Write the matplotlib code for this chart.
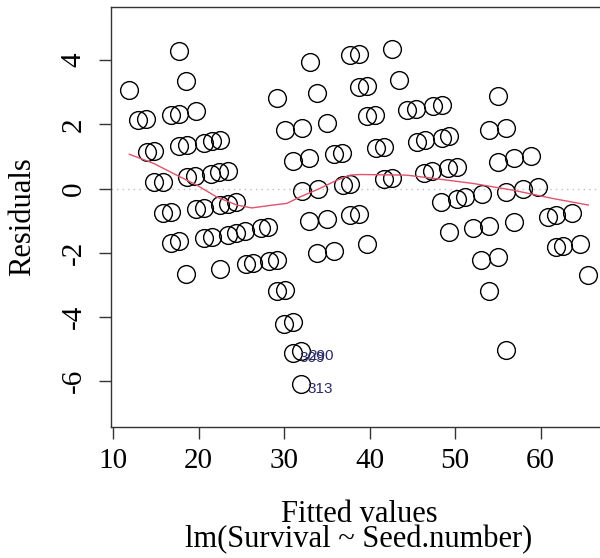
import numpy as np
import matplotlib
matplotlib.use("Agg")
import matplotlib.pyplot as plt

# Fitted values and residuals of lm(Survival ~ Seed.number)
fitted = [
    11.91, 17.68, 18.54, 12.96, 13.86, 16.78, 17.68, 19.67, 13.94, 14.83,
    17.72, 18.62, 20.61, 21.58, 22.55, 14.83, 15.81, 18.62, 19.59, 21.46,
    22.43, 23.42, 15.88, 16.82, 19.67, 20.64, 22.51, 23.45, 24.39, 16.78,
    17.75, 20.61, 21.54, 23.45, 24.39, 25.40, 27.27, 28.16, 18.54, 22.51,
    25.52, 26.41, 28.25, 29.22, 29.22, 30.15, 30.04, 31.02, 31.02, 32.02,
    31.96, 29.22, 30.12, 32.07, 31.02, 32.96, 32.14, 33.94, 32.96, 34.99,
    33.86, 35.88, 33.04, 33.89, 34.99, 35.88, 36.82, 36.84, 37.72, 37.72,
    38.74, 37.72, 38.81, 42.63, 38.81, 39.74, 43.49, 39.67, 40.64, 44.42,
    45.44, 47.39, 48.44, 55.06, 40.76, 41.70, 45.52, 46.49, 48.44, 49.33,
    54.01, 55.96, 41.70, 42.63, 46.37, 47.31, 49.22, 50.20, 55.06, 56.90,
    58.85, 48.33, 50.20, 51.20, 53.12, 55.96, 57.92, 59.74, 60.91, 61.81,
    63.65, 49.30, 52.14, 53.98, 56.94, 39.67, 61.78, 62.67, 64.62, 65.59,
    53.04, 55.06, 53.98, 55.96,
]
residuals = [
    3.06, 4.29, 3.34, 2.13, 2.16, 2.29, 2.32, 2.41, 1.15, 1.18,
    1.33, 1.36, 1.43, 1.47, 1.51, 0.20, 0.22, 0.35, 0.38, 0.46,
    0.51, 0.55, -0.77, -0.73, -0.62, -0.59, -0.51, -0.47, -0.41, -1.68,
    -1.64, -1.53, -1.51, -1.44, -1.38, -1.33, -1.23, -1.20, -2.66, -2.49,
    -2.36, -2.33, -2.25, -2.22, -3.19, -3.16, -4.20, -4.16, -5.11, -5.06,
    -6.09, 2.81, 1.84, 1.89, 0.86, 0.94, -0.08, -0.02, -1.01, -0.95,
    -1.99, -1.94, 3.94, 2.97, 2.03, 1.08, 1.12, 0.10, 0.15, -0.83,
    -0.79, 4.16, 4.19, 4.34, 3.17, 3.21, 3.37, 2.26, 2.29, 2.45,
    2.49, 2.57, 2.60, 2.89, 1.25, 1.30, 1.46, 1.51, 1.58, 1.63,
    1.82, 1.89, 0.29, 0.34, 0.49, 0.55, 0.63, 0.67, 0.83, 0.94,
    1.02, -0.41, -0.33, -0.27, -0.18, -0.10, -0.02, 0.06, -0.88, -0.83,
    -0.75, -1.36, -1.24, -1.17, -1.03, -1.73, -1.82, -1.79, -1.71, -2.69,
    -2.21, -2.14, -3.18, -5.03,
]
# Row names of the three most extreme residuals, largest |residual| first
extreme_ids = ["313", "309", "290"]

# Smoothed trend of residuals against fitted values
smooth_x = [11.91, 14.71, 17.45, 19.79, 22.13, 24.47, 26.22, 28.75, 30.32, 31.87,
            34.21, 36.16, 37.72, 38.89, 44.35, 47.46, 52.14, 56.82, 61.50, 65.59]
smooth_y = [1.07, 0.79, 0.42, 0.11, -0.26, -0.51, -0.60, -0.51, -0.46, -0.26,
            0.01, 0.26, 0.42, 0.44, 0.42, 0.32, 0.16, -0.05, -0.31, -0.51]

x_ticks = [10, 20, 30, 40, 50, 60]
y_ticks = [-6, -4, -2, 0, 2, 4]
x_label = "Fitted values"
sub_caption = "lm(Survival ~ Seed.number)"
y_label = "Residuals"

fx = np.array(fitted)
ry = np.array(residuals)

serif = ["Liberation Serif", "DejaVu Serif"]
fig = plt.figure(figsize=(6.0, 5.58), dpi=100)
ax = fig.add_axes([111 / 600, 1 - 426.6 / 558, (606.7 - 111) / 600, (426.6 - 6.9) / 558])

# Axis limits as plot.lm: 8 % extension of the residual range, then R's 4 % padding
xr = fx.max() - fx.min()
ax.set_xlim(fx.min() - 0.04 * xr, fx.max() + 0.04 * xr)
ylo, yhi = ry.min(), ry.max()
ext = 0.08 * (yhi - ylo)
ylo, yhi = ylo - ext, yhi + ext
pad = 0.04 * (yhi - ylo)
ax.set_ylim(ylo - pad, yhi + pad)

ax.axhline(0, color="#BEBEBE", linestyle=(0, (1, 3)), linewidth=1.0, zorder=1)
ax.plot(fx, ry, linestyle="none", marker="o", markersize=12.8,
        markerfacecolor="none", markeredgecolor="black", markeredgewidth=1.0, zorder=2)

ax.plot(smooth_x, smooth_y, color="#DF536B", linewidth=1.0, zorder=3)

# Label the three largest absolute residuals
top = np.argsort(-np.abs(ry), kind="mergesort")[:3]
for idx, name in zip(top, extreme_ids):
    ax.annotate(name, (fx[idx], ry[idx]), xytext=(5, -3.5), textcoords="offset points",
                ha="left", va="center", fontsize=11, color="#2b2b66",
                family=["Liberation Sans", "DejaVu Sans"], zorder=4)

ax.set_xticks(x_ticks)
ax.set_yticks(y_ticks)
ax.set_xticklabels([str(v) for v in x_ticks], family=serif, fontsize=21)
ax.set_yticklabels([str(v) for v in y_ticks], family=serif, fontsize=21,
                   rotation=90, va="center")
ax.tick_params(axis="both", direction="out", length=8.7, width=1.0, color="#333333")
ax.tick_params(axis="x", pad=7)
ax.tick_params(axis="y", pad=9)
for sp in ax.spines.values():
    sp.set_linewidth(1.0)
    sp.set_color("#333333")

fig.text(359 / 600, 1 - 514 / 558, x_label, ha="center", va="center",
         family=serif, fontsize=22)
fig.text(359 / 600, 1 - 540 / 558, sub_caption, ha="center", va="center",
         family=serif, fontsize=22)
fig.text(22.5 / 600, 1 - 216.6 / 558, y_label, ha="center", va="center",
         rotation=90, family=serif, fontsize=22)

fig.savefig("out.png", dpi=100)
